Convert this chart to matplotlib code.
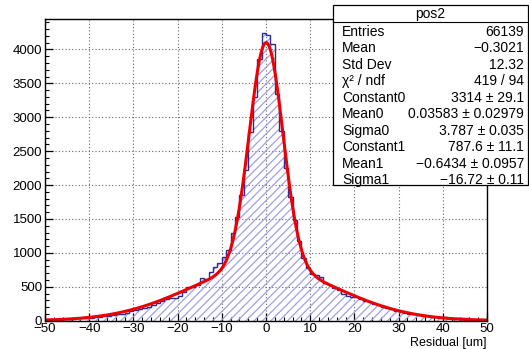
import numpy as np
import matplotlib
matplotlib.use("Agg")
import matplotlib.pyplot as plt
from matplotlib.patches import Rectangle
from matplotlib.lines import Line2D
from matplotlib.ticker import MultipleLocator

plt.rcParams['font.family'] = ['Liberation Sans', 'DejaVu Sans']
plt.rcParams['hatch.linewidth'] = 0.9

# histogram: 100 bins of width 1 from -50 to 50
bin_edges = np.arange(-50, 51, 1)
counts = [
    30, 28, 26, 25, 27, 28, 30, 33, 36, 40,
    45, 50, 55, 62, 72, 82, 92, 105, 120, 138,
    155, 170, 190, 205, 230, 255, 285, 320, 330, 340,
    365, 420, 490, 495, 520, 625, 620, 725, 790, 850,
    940, 1040, 1300, 1525, 1855, 2224, 2781, 3297, 3858, 4240,
    4220, 4084, 3350, 2800, 2250, 1830, 1486, 1172, 920, 780,
    690, 680, 650, 560, 530, 480, 460, 400, 360, 355,
    345, 320, 290, 270, 250, 230, 205, 185, 170, 150,
    135, 120, 105, 95, 85, 72, 63, 56, 50, 48,
    50, 45, 42, 40, 38, 33, 30, 28, 25, 25,
]

# double gaussian fit parameters (from the stats box)
const0, mean0, sigma0 = 3314, 0.03583, 3.787
const1, mean1, sigma1 = 787.6, -0.6434, -16.72

stat_labels = ["Entries", "Mean", "Std Dev", "\u03c7\u00b2 / ndf", "Constant0", "Mean0",
               "Sigma0", "Constant1", "Mean1", "Sigma1"]
stat_values = ["66139", "\u22120.3021", "12.32", "419 / 94", "3314 \u00b1 29.1",
               "0.03583 \u00b1 0.02979", "3.787 \u00b1 0.035", "787.6 \u00b1 11.1",
               "\u22120.6434 \u00b1 0.0957", "\u221216.72 \u00b1 0.11"]

W, H = 529, 349
fig = plt.figure(figsize=(W / 100, H / 100), dpi=100)
ax = fig.add_axes([45 / W, 1 - 320.7 / H, 442 / W, 301.4 / H])

ax.stairs(counts, bin_edges, fill=True, hatch='////', facecolor='none',
          edgecolor='#a0a0e4', linewidth=0)
ax.stairs(counts, bin_edges, color='#2a2a9a', linewidth=1.0)

xf = np.linspace(-50, 50, 1000)
yf = (const0 * np.exp(-0.5 * ((xf - mean0) / sigma0) ** 2)
      + const1 * np.exp(-0.5 * ((xf - mean1) / sigma1) ** 2))
ax.plot(xf, yf, color='#ee0000', linewidth=2.2)

ax.set_xlim(-50, 50)
ax.set_ylim(0, 4445)
ax.xaxis.set_major_locator(MultipleLocator(10))
ax.xaxis.set_minor_locator(MultipleLocator(2))
ax.yaxis.set_major_locator(MultipleLocator(500))
ax.yaxis.set_minor_locator(MultipleLocator(100))
ax.tick_params(direction='in', which='major', length=6, width=0.9, labelsize=9.5, pad=2)
ax.tick_params(direction='in', which='minor', length=3.2, width=0.8)
ax.grid(True, which='major', linestyle=(0, (1, 2)), color='#666666', linewidth=0.8)
ax.set_axisbelow(True)
for s in ax.spines.values():
    s.set_linewidth(1.0)

fig.text(486.5 / W, 1 - 343 / H, "Residual [um]", ha='right', va='center', fontsize=9)


# stats box (pixel coords, origin top-left)
def fx(px):
    return px / W


def fy(py):
    return 1 - py / H


x0, x1, y0, y1 = 333, 527.5, 4.5, 185
fig.patches.append(Rectangle((fx(x0), fy(y1)), fx(x1) - fx(x0), fy(y0) - fy(y1),
                             transform=fig.transFigure, facecolor='white',
                             edgecolor='black', linewidth=0.9, zorder=5))
fig.lines.append(Line2D([fx(x0), fx(x1)], [fy(22.3), fy(22.3)], transform=fig.transFigure,
                        color='black', linewidth=0.8, zorder=6))
fig.text(fx(430), fy(14), "pos2", ha='center', va='center', fontsize=10, zorder=7)
for i, (lab, val) in enumerate(zip(stat_labels, stat_values)):
    yy = fy(32 + i * 16.45)
    fig.text(fx(342), yy, lab, ha='left', va='center', fontsize=10, zorder=7)
    fig.text(fx(524), yy, val, ha='right', va='center', fontsize=10, zorder=7)

fig.savefig("out.png", dpi=100)
